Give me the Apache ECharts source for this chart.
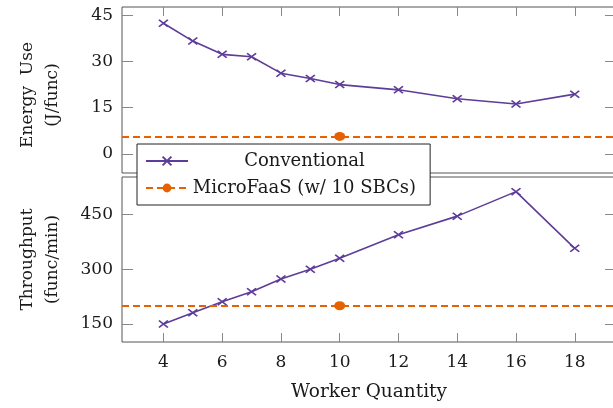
<!DOCTYPE html>
<html><head><meta charset="utf-8">
<script src="https://cdn.jsdelivr.net/npm/echarts@6/dist/echarts.min.js"></script>
<style>html,body{margin:0;padding:0;background:#fff}#c{width:613px;height:408px}</style>
</head><body><div id="c"></div>
<script>
const workers = [4, 5, 6, 7, 8, 9, 10, 12, 14, 16, 18];
const energyConventional = [42.4, 36.6, 32.3, 31.5, 26.2, 24.5, 22.5, 20.8, 17.9, 16.2, 19.4];
const throughputConventional = [150, 181, 211, 238, 273, 300, 330, 394, 445, 512, 357];
const microWorkers = 10;
const energyMicroFaaS = 5.7;
const throughputMicroFaaS = 200;
const xTicks = [4, 6, 8, 10, 12, 14, 16, 18];
const energyTicks = [0, 15, 30, 45];
const throughputTicks = [150, 300, 450];
const seriesNames = ['Conventional', 'MicroFaaS (w/ 10 SBCs)'];
const xTitle = 'Worker Quantity';
const energyTitle = 'Energy  Use\n(J/func)';
const throughputTitle = 'Throughput\n(func/min)';

const FONT = 'DejaVu Serif';
const TXT = '#1a1a1a';
const PURPLE = '#5e3c99';
const ORANGE = '#e66101';
const FRAME = '#555';
const TICK = '#888';
const xMin = 2.59, xMax = 19.404;
const eMin = -6.16, eMax = 47.65;
const tMin = 100.8, tMax = 552;
const crossPath = 'path://M0,0L10,10M0,10L10,0';

const chart = echarts.init(document.getElementById('c'), null, {renderer: 'canvas'});

function xAxis(gi, pos, labels, name) {
  return {
    type: 'value', gridIndex: gi, position: pos, min: xMin, max: xMax,
    axisLine: {show: false, onZero: false},
    axisTick: {show: true, inside: true, length: 9, customValues: xTicks, lineStyle: {color: TICK, width: 1}},
    axisLabel: {show: labels, customValues: xTicks, margin: 12, fontFamily: FONT, fontSize: 17, color: TXT},
    splitLine: {show: false},
    name: name || '', nameLocation: 'middle', nameGap: 41,
    nameTextStyle: {fontFamily: FONT, fontSize: 18.5, color: TXT}
  };
}
function yAxis(gi, pos, min, max, ticks, labels, name, pad) {
  return {
    type: 'value', gridIndex: gi, position: pos, min: min, max: max,
    axisLine: {show: false, onZero: false},
    axisTick: {show: true, inside: true, length: 11, customValues: ticks, lineStyle: {color: TICK, width: 1}},
    axisLabel: {show: labels, customValues: ticks, margin: 9, fontFamily: FONT, fontSize: 17, color: TXT},
    splitLine: {show: false},
    name: name || '', nameLocation: 'middle', nameRotate: 90, nameGap: 57,
    nameTextStyle: {fontFamily: FONT, fontSize: 17, lineHeight: 25, color: TXT, padding: pad || 0}
  };
}

function convSeries(xi, yi, vals) {
  return {
    name: seriesNames[0], type: 'line', xAxisIndex: xi, yAxisIndex: yi,
    data: workers.map((w, i) => [w, vals[i]]),
    symbol: crossPath, symbolSize: [9, 7], showAllSymbol: true,
    lineStyle: {color: PURPLE, width: 1.6},
    itemStyle: {color: PURPLE, borderColor: PURPLE, borderWidth: 1.6},
    z: 3
  };
}
function microSeries(xi, yi, val) {
  return {
    name: seriesNames[1], type: 'line', xAxisIndex: xi, yAxisIndex: yi,
    data: [[microWorkers, val]],
    symbol: 'circle', symbolSize: [11, 9],
    lineStyle: {color: ORANGE, width: 2, type: [7, 4]},
    itemStyle: {color: ORANGE, borderWidth: 0},
    markLine: {
      silent: true, symbol: ['none', 'none'], label: {show: false},
      lineStyle: {color: ORANGE, width: 2, type: [7, 4]},
      data: [{yAxis: val}]
    },
    z: 2
  };
}

chart.setOption({
  animation: false,
  backgroundColor: '#fff',
  grid: [
    {left: 122, width: 494, top: 7, height: 166, show: true, borderColor: FRAME, borderWidth: 1, backgroundColor: 'transparent', outerBoundsMode: 'none', containLabel: false},
    {left: 122, width: 494, top: 177, height: 165, show: true, borderColor: FRAME, borderWidth: 1, backgroundColor: 'transparent', outerBoundsMode: 'none', containLabel: false}
  ],
  xAxis: [
    xAxis(0, 'top', false),
    xAxis(1, 'bottom', true, xTitle)
  ],
  yAxis: [
    yAxis(0, 'left', eMin, eMax, energyTicks, true, energyTitle, [0, 10, 0, 0]),
    yAxis(0, 'right', eMin, eMax, energyTicks, false),
    yAxis(1, 'left', tMin, tMax, throughputTicks, true, throughputTitle),
    yAxis(1, 'right', tMin, tMax, throughputTicks, false)
  ],
  legend: {
    orient: 'vertical', left: 137, top: 144,
    data: seriesNames,
    itemWidth: 42, itemHeight: 11, itemGap: 9,
    padding: [8, 14, 8, 8],
    backgroundColor: '#fff', borderColor: '#222', borderWidth: 1, borderRadius: 0,
    textStyle: {fontFamily: FONT, fontSize: 18, color: TXT,
      rich: {t: {width: 223, align: 'center', fontFamily: FONT, fontSize: 18, lineHeight: 21, color: TXT}}},
    formatter: n => '{t|' + n + '}',
    z: 10
  },
  series: [
    convSeries(0, 0, energyConventional),
    microSeries(0, 0, energyMicroFaaS),
    convSeries(1, 2, throughputConventional),
    microSeries(1, 2, throughputMicroFaaS)
  ]
});
</script></body></html>
